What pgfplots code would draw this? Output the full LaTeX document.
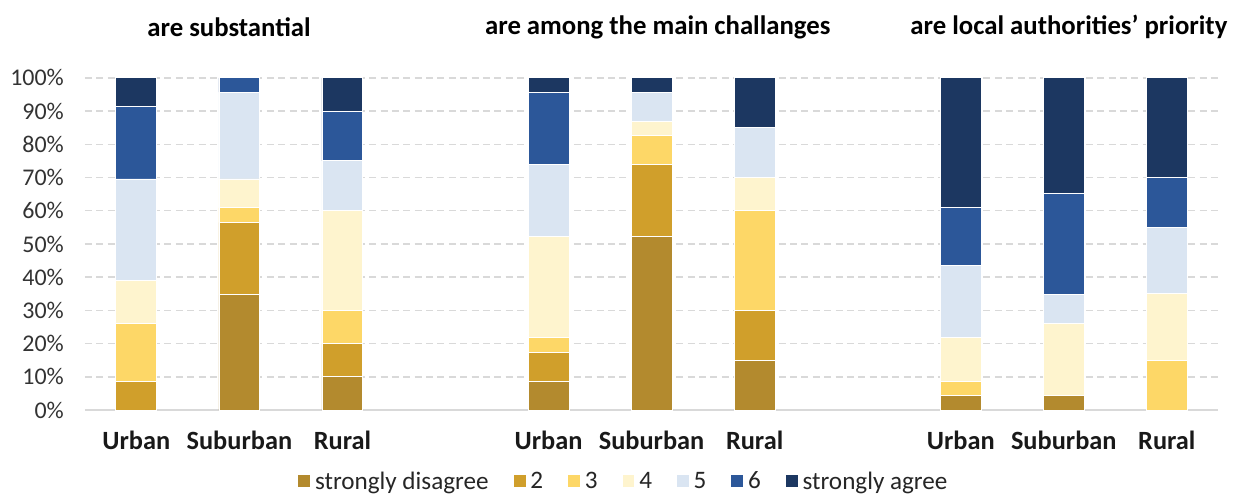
\documentclass[border=0pt]{standalone}
\usepackage{pgfplots}
\pgfplotsset{compat=1.18}
\usepackage{pgfplotstable}
\usepackage{fontspec}
\setmainfont{Carlito}

\definecolor{cSD}{HTML}{B38A2E}
\definecolor{cTwo}{HTML}{D09F2B}
\definecolor{cThree}{HTML}{FDD767}
\definecolor{cFour}{HTML}{FEF4CE}
\definecolor{cFive}{HTML}{DAE5F2}
\definecolor{cSix}{HTML}{2C5799}
\definecolor{cSA}{HTML}{1C3761}
\definecolor{gridc}{HTML}{D9D9D9}

% percentages per answer, bars at 0,1,2 / 4,5,6 / 8,9,10
\pgfplotstableread{
x  sd     d2     d3     d4     d5     d6     sa
0  0      8.70   17.39  13.04  30.43  21.74  8.70
1  34.78  21.74  4.35   8.70   26.09  4.35   0
2  10     10     10     30     15     15     10
4  8.70   8.70   4.35   30.43  21.74  21.74  4.35
5  52.17  21.74  8.70   4.35   8.70   0      4.35
6  15     15     30     10     15     0      15
8  4.35   0      4.35   13.04  21.74  17.39  39.13
9  4.35   0      0      21.74  8.70   30.43  34.78
10 0      0      15     20     20     15     30
}\data

\begin{document}
\begin{tikzpicture}
\path (-42.5pt,-41pt) rectangle (574.5pt,205.5pt);
\begin{axis}[
  scale only axis,
  width=568pt, height=166.5pt,
  ybar stacked, bar width=20.5pt,
  xmin=-0.5, xmax=10.5, ymin=0, ymax=100,
  ytick={0,10,...,100},
  yticklabel={\pgfmathprintnumber{\tick}\%},
  xtick={0,1,2,4,5,6,8,9,10},
  xticklabels={Urban,Suburban,Rural,Urban,Suburban,Rural,Urban,Suburban,Rural},
  /pgf/number format/assume math mode=true,
  axis line style={draw=none},
  major tick length=0pt,
  ymajorgrids,
  major grid style={gridc, line width=0.75pt, dash pattern=on 3.5pt off 2.2pt},
  y tick label style={font=\fontsize{12}{14}\selectfont, text=black!80, xshift=-7pt},
  x tick label style={font=\fontsize{13.2}{15}\selectfont\bfseries, text=black!90, yshift=-7pt},
  clip=false,
  legend columns=7,
  legend style={draw=none, at={(0.476,-0.216)}, anchor=center,
    font=\fontsize{12.6}{14}\selectfont, text=black!85,
    /tikz/every even column/.append style={column sep=10pt}},
  legend image code/.code={\fill[#1] (0pt,-3pt) rectangle (6.5pt,3.5pt);},
  every axis plot/.append style={draw=white, line width=0.4pt},
]
\addplot[fill=cSD] table[x=x,y=sd]{\data};
\addlegendentry{strongly disagree}
\addplot[fill=cTwo] table[x=x,y=d2]{\data};
\addlegendentry{2}
\addplot[fill=cThree] table[x=x,y=d3]{\data};
\addlegendentry{3}
\addplot[fill=cFour] table[x=x,y=d4]{\data};
\addlegendentry{4}
\addplot[fill=cFive] table[x=x,y=d5]{\data};
\addlegendentry{5}
\addplot[fill=cSix] table[x=x,y=d6]{\data};
\addlegendentry{6}
\addplot[fill=cSA] table[x=x,y=sa]{\data};
\addlegendentry{strongly agree}
\draw[gridc, line width=0.75pt] (axis cs:-0.5,0) -- (axis cs:10.5,0);
\node[font=\fontsize{13.4}{15}\selectfont\bfseries] at (axis cs:0.9,115.3) {are substantial};
\node[font=\fontsize{13.4}{15}\selectfont\bfseries] at (axis cs:5.06,115.3) {are among the main challanges};
\node[font=\fontsize{13.4}{15}\selectfont\bfseries] at (axis cs:9.05,115.3) {are local authorities’ priority};
\end{axis}
\end{tikzpicture}
\end{document}
